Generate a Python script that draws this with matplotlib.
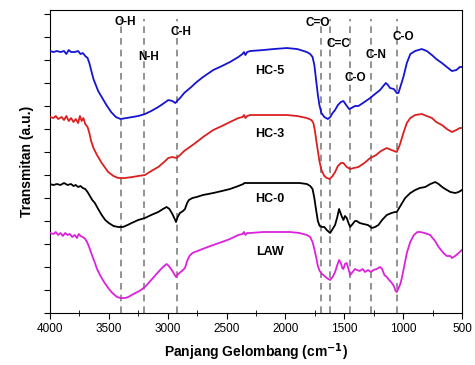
import matplotlib
matplotlib.use('Agg')
import numpy as np
import matplotlib.pyplot as plt
from matplotlib.ticker import MultipleLocator, NullFormatter

plt.rcParams['font.family'] = ['Liberation Sans', 'DejaVu Sans']

# HC-5 (biru)
wn_hc5 = [4000, 3970, 3940, 3910, 3880, 3860, 3840, 3820, 3790, 3760, 3740, 3720, 3700, 3680,
          3665, 3650, 3630, 3610, 3590, 3560, 3520, 3480, 3440, 3400, 3350, 3300, 3250, 3193,
          3140, 3080, 3030, 2995, 2960, 2935, 2920, 2895, 2860, 2800, 2754, 2700, 2613, 2540,
          2471, 2400, 2365, 2352, 2340, 2325, 2300, 2188, 2100, 1989, 1900, 1819, 1790, 1770,
          1755, 1745, 1735, 1725, 1712, 1695, 1670, 1640, 1620, 1600, 1579, 1555, 1530, 1508,
          1485, 1460, 1440, 1410, 1381, 1330, 1281, 1240, 1197, 1170, 1148, 1130, 1112, 1080,
          1055, 1041, 1020, 999, 970, 940, 900, 843, 800, 757, 720, 672, 630, 587, 550, 520, 502]
t_hc5 = [262, 261, 262, 261, 262, 259, 263, 261, 261, 262, 259, 260, 257, 255,
         250, 243, 234, 228, 222, 216, 208, 201, 196, 194, 195, 196, 197, 199,
         202, 206, 210, 213, 212, 210, 212, 215, 220, 226, 231, 236, 243, 247,
         251, 256, 259, 261, 258, 261, 262, 263, 264, 265, 264, 261, 259, 256,
         248, 238, 228, 218, 208, 200, 196, 194, 196, 200, 203, 208, 211, 212,
         208, 204, 205, 207, 207, 211, 215, 219, 223, 227, 230, 228, 225, 224,
         220, 220, 228, 236, 250, 259, 262, 264, 262, 258, 254, 250, 246, 242, 243, 246, 246]

# HC-3 (merah)
wn_hc3 = [4000, 3970, 3950, 3930, 3900, 3880, 3860, 3840, 3820, 3800, 3780, 3760, 3745, 3730,
          3715, 3700, 3680, 3665, 3650, 3630, 3600, 3560, 3505, 3460, 3420, 3363, 3300, 3250,
          3193, 3140, 3080, 3030, 2995, 2960, 2924, 2895, 2860, 2800, 2754, 2700, 2613, 2540,
          2471, 2400, 2365, 2352, 2340, 2325, 2300, 2188, 2100, 1989, 1900, 1819, 1780, 1763,
          1750, 1738, 1725, 1712, 1695, 1670, 1649, 1625, 1600, 1579, 1555, 1530, 1508, 1480,
          1450, 1420, 1381, 1330, 1281, 1230, 1190, 1140, 1100, 1055, 1030, 999, 970, 940,
          900, 843, 800, 757, 720, 672, 630, 587, 550, 520, 502]
t_hc3 = [196, 195, 197, 194, 196, 193, 197, 192, 195, 191, 194, 190, 197, 192,
         195, 189, 186, 180, 172, 165, 158, 150, 141, 137, 135, 135, 136, 137,
         138, 142, 146, 151, 155, 156, 155, 158, 162, 167, 171, 176, 183, 187,
         191, 195, 196, 198, 195, 197, 198, 198, 198, 198, 197, 195, 193, 190,
         182, 172, 162, 152, 143, 137, 135, 134, 137, 141, 147, 150, 150, 146,
         144, 145, 146, 150, 155, 158, 162, 165, 163, 161, 168, 180, 190, 195,
         198, 199, 197, 195, 191, 188, 184, 181, 183, 185, 185]

# HC-0 (hitam)
wn_hc0 = [4000, 3970, 3940, 3910, 3880, 3850, 3820, 3800, 3780, 3760, 3740, 3720, 3700, 3680,
          3660, 3640, 3618, 3590, 3560, 3530, 3500, 3460, 3420, 3380, 3340, 3306, 3250, 3193,
          3140, 3080, 3040, 3009, 2985, 2960, 2940, 2929, 2915, 2896, 2870, 2853, 2835, 2820,
          2790, 2754, 2700, 2613, 2540, 2471, 2400, 2358, 2350, 2300, 2188, 2100, 1961, 1880,
          1819, 1790, 1770, 1755, 1740, 1725, 1710, 1690, 1670, 1650, 1621, 1600, 1579, 1560,
          1545, 1536, 1520, 1508, 1495, 1480, 1465, 1451, 1430, 1410, 1395, 1370, 1338, 1300,
          1267, 1240, 1211, 1180, 1140, 1100, 1070, 1055, 1040, 1020, 984, 940, 899, 860,
          814, 770, 729, 700, 670, 644, 600, 559, 530, 502]
t_hc0 = [129, 128, 129, 128, 130, 128, 129, 127, 128, 126, 127, 125, 124, 121,
         117, 113, 110, 104, 98, 93, 90, 87, 86, 86, 88, 90, 93, 95,
         98, 101, 104, 106, 104, 99, 94, 91, 96, 100, 102, 104, 110, 113,
         115, 116, 118, 120, 122, 124, 127, 129, 130, 130, 130, 130, 130, 130,
         129, 127, 124, 115, 103, 92, 87, 86, 86, 83, 80, 84, 88, 96,
         104, 101, 96, 93, 97, 95, 90, 86, 89, 92, 92, 90, 89, 88,
         85, 86, 88, 93, 98, 100, 101, 101, 104, 108, 115, 120, 123, 125,
         126, 129, 131, 129, 126, 124, 121, 120, 121, 123]

# LAW (magenta)
wn_law = [4000, 3970, 3950, 3930, 3910, 3890, 3870, 3850, 3830, 3810, 3790, 3770, 3755, 3740,
          3720, 3700, 3685, 3670, 3655, 3640, 3620, 3600, 3570, 3540, 3505, 3470, 3430, 3400,
          3360, 3335, 3290, 3240, 3193, 3140, 3080, 3040, 3009, 2990, 2960, 2940, 2929, 2910,
          2880, 2853, 2835, 2815, 2790, 2726, 2660, 2613, 2540, 2471, 2400, 2365, 2352, 2340,
          2325, 2300, 2188, 2100, 1961, 1880, 1819, 1790, 1770, 1755, 1740, 1725, 1710, 1690,
          1678, 1650, 1621, 1600, 1579, 1560, 1545, 1530, 1518, 1508, 1495, 1480, 1465, 1451,
          1430, 1410, 1395, 1370, 1345, 1324, 1300, 1275, 1253, 1225, 1197, 1180, 1160, 1140,
          1120, 1097, 1080, 1065, 1055, 1040, 1025, 1012, 990, 970, 941, 910, 880, 857,
          820, 772, 730, 700, 659, 630, 600, 587, 560, 530, 502]
t_law = [80, 79, 81, 78, 80, 77, 80, 78, 79, 76, 78, 75, 79, 77,
         76, 74, 71, 67, 62, 57, 51, 44, 37, 31, 25, 20, 16, 15,
         15, 16, 19, 22, 26, 33, 41, 46, 49, 47, 42, 38, 36, 39,
         42, 45, 52, 57, 60, 63, 66, 68, 71, 74, 78, 79, 81, 78,
         80, 80, 81, 81, 81, 80, 78, 76, 71, 64, 56, 47, 42, 39,
         38, 35, 33, 36, 41, 48, 53, 50, 45, 44, 49, 50, 44, 38,
         41, 44, 43, 42, 44, 41, 43, 41, 43, 44, 46, 44, 38, 36,
         33, 30, 27, 22, 21, 25, 29, 35, 48, 60, 71, 78, 81, 81,
         80, 78, 72, 66, 60, 57, 57, 55, 57, 60, 63]

# posisi gugus fungsi
gugus_wn = [3400, 3200, 2920, 1700, 1620, 1450, 1270, 1050]
gugus_label = ['O-H', 'N-H', 'C-H', 'C=O', 'C=C', 'C-O', 'C-N', 'C-O']
gugus_text_wn = [3360, 3160, 2890, 1730, 1550, 1410, 1230, 1000]
gugus_text_y = [291, 256, 281, 290, 269, 235, 258, 276]

sampel = ['HC-5', 'HC-3', 'HC-0', 'LAW']
sampel_y = [242, 179, 114, 61]

fig = plt.figure(figsize=(4.75, 3.65), dpi=100)
ax = fig.add_axes([0.105, 0.1425, 0.868, 0.83])

for w in gugus_wn:
    ax.plot([w, w], [0, 294], color='#808080', lw=1.2, ls=(0, (4, 3)), zorder=1)

ax.plot(wn_hc5, t_hc5, color='#1414d2', lw=1.3, zorder=3)
ax.plot(wn_hc3, t_hc3, color='#dc2020', lw=1.3, zorder=3)
ax.plot(wn_hc0, t_hc0, color='black', lw=1.3, zorder=3)
ax.plot(wn_law, t_law, color='#dc22dc', lw=1.3, zorder=3)

for w, lab, tw, ty in zip(gugus_wn, gugus_label, gugus_text_wn, gugus_text_y):
    ax.text(tw, ty, lab, ha='center', va='center', fontsize=8.5, fontweight='bold')

for lab, y in zip(sampel, sampel_y):
    ax.text(2130, y, lab, ha='center', va='center', fontsize=9, fontweight='bold')

ax.set_xlim(4000, 500)
ax.set_ylim(0, 303)
ax.xaxis.set_major_locator(MultipleLocator(500))
ax.xaxis.set_minor_locator(MultipleLocator(250))
ax.yaxis.set_major_locator(MultipleLocator(23))
ax.yaxis.set_major_formatter(NullFormatter())
ax.tick_params(axis='x', which='major', direction='out', length=4, labelsize=8.5)
ax.tick_params(axis='x', which='minor', direction='inout', length=4)
ax.tick_params(axis='y', which='major', direction='out', length=4)

ax.set_xlabel('Panjang Gelombang (cm$^{\\mathbf{-1}}$)', fontsize=10, fontweight='bold')
ax.set_ylabel('Transmitan (a.u.)', fontsize=10, fontweight='bold')

plt.savefig('out.png', dpi=100)
plt.close()
